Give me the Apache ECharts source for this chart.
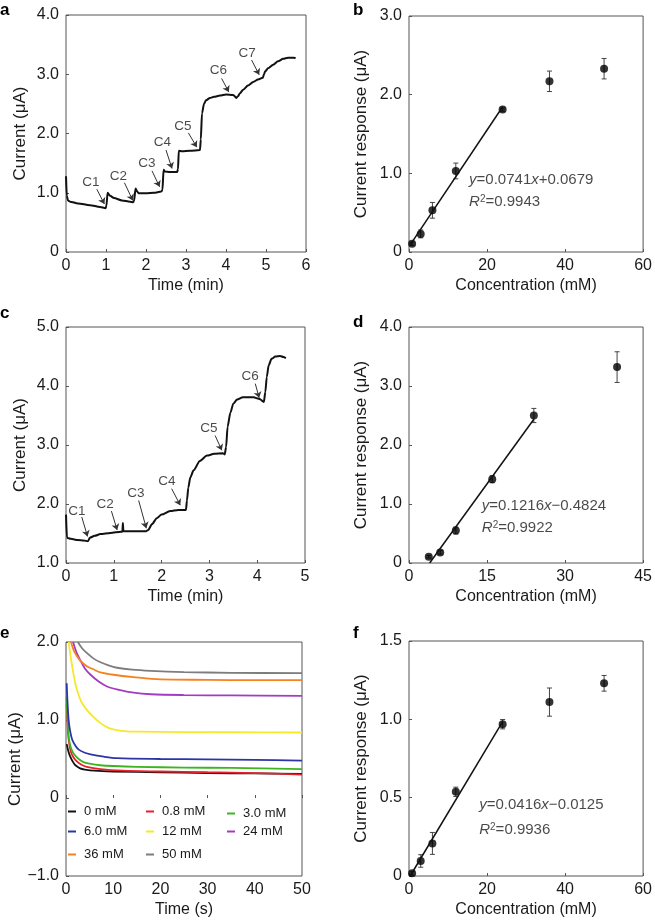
<!DOCTYPE html>
<html><head><meta charset="utf-8">
<script src="https://cdn.jsdelivr.net/npm/echarts@6/dist/echarts.min.js"></script>
<style>html,body{margin:0;padding:0;background:#fff}#c{width:655px;height:922px}</style>
</head><body><div id="c"></div>
<script>
// ---------- Panel a: amperometric trace ----------
const aTime = [0,0.02,0.05,0.1,0.3,0.6,0.85,0.99,1.01,1.04,1.1,1.2,1.4,1.6,1.68,1.7,1.74,1.78,1.82,2.0,2.2,2.38,2.41,2.44,2.47,2.6,2.78,2.8,2.82,2.9,3.1,3.35,3.37,3.4,3.45,3.5,3.6,3.7,3.85,4.0,4.18,4.26,4.3,4.35,4.43,4.55,4.68,4.8,4.92,4.95,4.98,5.05,5.18,5.3,5.43,5.55,5.7,5.74];
const aCurrent = [1.28,0.95,0.87,0.85,0.82,0.79,0.76,0.74,0.78,1.0,0.95,0.91,0.87,0.85,0.84,0.86,1.07,1.02,0.99,0.99,1.0,1.02,1.04,1.39,1.36,1.35,1.35,1.4,1.71,1.7,1.71,1.72,1.9,2.34,2.5,2.56,2.6,2.62,2.64,2.66,2.65,2.6,2.63,2.68,2.74,2.81,2.87,2.91,2.94,3.0,3.05,3.1,3.16,3.22,3.26,3.28,3.28,3.27];
const aLabels = ['C1','C2','C3','C4','C5','C6','C7'];
const aLabelPos = [[0.62,1.18],[1.31,1.28],[2.02,1.49],[2.41,1.86],[2.92,2.13],[3.81,3.07],[4.53,3.36]];
const aArrowStart = [[0.77,1.06],[1.46,1.17],[2.15,1.37],[2.50,1.72],[3.06,2.01],[3.89,2.93],[4.64,3.24]];
const aArrowEnd = [[0.96,0.81],[1.67,0.87],[2.34,1.10],[2.65,1.41],[3.27,1.77],[4.07,2.70],[4.83,2.99]];

// ---------- Panel b ----------
const bConc = [0.8,3,6,12,24,36,50];
const bResp = [0.105,0.23,0.53,1.03,1.81,2.17,2.33];
const bErr = [0.02,0.05,0.1,0.1,0.02,0.13,0.13];
const bFitX = [0.3,24];
const bFitY = [0.09,1.846];
const bEqPos = [[15.4,0.92],[15.4,0.64]];

// ---------- Panel c ----------
const cTime = [0,0.02,0.1,0.25,0.37,0.46,0.5,0.6,0.72,0.93,1.15,1.18,1.19,1.2,1.4,1.68,1.72,1.8,1.9,2.0,2.18,2.35,2.51,2.53,2.56,2.6,2.67,2.8,2.95,3.1,3.28,3.32,3.35,3.38,3.44,3.5,3.58,3.7,3.92,4.05,4.14,4.17,4.2,4.24,4.3,4.38,4.48,4.55,4.6];
const cCurrent = [1.82,1.43,1.41,1.39,1.38,1.37,1.43,1.46,1.49,1.51,1.53,1.53,1.68,1.54,1.54,1.54,1.56,1.66,1.76,1.82,1.88,1.9,1.9,2.06,2.28,2.45,2.57,2.73,2.82,2.85,2.86,2.84,2.97,3.31,3.55,3.7,3.77,3.81,3.81,3.78,3.73,3.9,4.15,4.35,4.46,4.5,4.51,4.49,4.47];
const cLabels = ['C1','C2','C3','C4','C5','C6'];
const cLabelPos = [[0.23,1.88],[0.82,1.99],[1.46,2.18],[2.11,2.38],[2.99,3.29],[3.85,4.16]];
const cArrowStart = [[0.33,1.78],[0.95,1.88],[1.52,2.06],[2.21,2.26],[3.12,3.16],[3.96,4.04]];
const cArrowEnd = [[0.45,1.45],[1.07,1.56],[1.68,1.59],[2.39,1.98],[3.26,2.91],[4.04,3.80]];

// ---------- Panel d ----------
const dConc = [3.8,6,9,16,24,40];
const dResp = [0.107,0.18,0.55,1.42,2.50,3.32];
const dErr = [0.02,0.03,0.06,0.06,0.12,0.26];
const dFitX = [3.97,24];
const dFitY = [0,2.436];
const dEqPos = [[14.0,0.97],[14.0,0.60]];

// ---------- Panel e: transients ----------
const eNames = ['0 mM','0.8 mM','3.0 mM','6.0 mM','12 mM','24 mM','36 mM','50 mM'];
const eColors = ['#111111','#e8202a','#3cb521','#2b35a8','#f5e92a','#a43bc2','#f5821f','#7d7d7d'];
const e0 = [[0.15,0.69],[0.5,0.6],[0.9,0.53],[1.5,0.46],[2.0,0.42],[3,0.38],[4,0.365],[6,0.35],[10,0.34],[20,0.33],[30,0.32],[40,0.315],[50,0.31]];
const e08 = [[0.15,1.2],[0.3,0.98],[0.56,0.75],[1.0,0.6],[1.5,0.53],[2.3,0.47],[3.2,0.43],[4.4,0.40],[7.3,0.37],[12,0.35],[20,0.34],[30,0.33],[40,0.32],[50,0.30]];
const e3 = [[0.15,1.3],[0.3,1.05],[0.56,0.79],[1.0,0.65],[1.6,0.57],[2.5,0.51],[3.7,0.46],[5,0.44],[7.3,0.42],[10,0.41],[15,0.40],[25,0.39],[35,0.385],[50,0.37]];
const e6 = [[0.15,1.47],[0.3,1.25],[0.56,1.0],[0.9,0.85],[1.3,0.75],[2.0,0.67],[2.7,0.62],[4,0.58],[5.2,0.56],[8,0.53],[10.8,0.51],[20,0.5],[30,0.495],[40,0.49],[50,0.48]];
const e12 = [[0.56,2.0],[0.9,1.85],[1.3,1.69],[1.8,1.52],[2.3,1.39],[3.2,1.24],[4.4,1.13],[5.8,1.04],[7.3,0.96],[9,0.9],[10.8,0.87],[13,0.855],[15.7,0.85],[25,0.845],[35,0.843],[50,0.84]];
const e24 = [[1.5,2.0],[2.2,1.87],[3.0,1.77],[4.0,1.66],[5.2,1.58],[7,1.49],[8.7,1.43],[11,1.39],[14.3,1.35],[18,1.33],[25,1.32],[35,1.315],[50,1.31]];
const e36 = [[1.06,2.0],[1.6,1.9],[2.3,1.82],[3.2,1.75],[4.4,1.69],[5.8,1.65],[7.3,1.61],[10,1.58],[14.3,1.55],[20,1.52],[30,1.515],[40,1.51],[50,1.51]];
const e50 = [[2.5,2.0],[3.4,1.92],[4.4,1.86],[5.8,1.79],[7.3,1.74],[9,1.7],[10.8,1.67],[14,1.645],[17.9,1.63],[25,1.615],[35,1.605],[50,1.60]];
const eCurves = [e0,e08,e3,e6,e12,e24,e36,e50];
const eLegendPos = [[68,805],[146,805],[227,807],[68,825],[146,825],[227,825],[68,848],[146,848]];

// ---------- Panel f ----------
const fConc = [0.8,3,6,12,24,36,50];
const fResp = [0.017,0.096,0.208,0.537,0.969,1.11,1.23];
const fErr = [0.01,0.04,0.07,0.03,0.03,0.09,0.05];
const fFitX = [0.3,24];
const fFitY = [0,0.986];
const fEqPos = [[18.0,0.452],[18.0,0.293]];

const eqTexts = {
  b: ['{i|y}=0.0741{i|x}+0.0679', '{i|R}{s|2}=0.9943'],
  d: ['{i|y}=0.1216{i|x}\u22120.4824', '{i|R}{s|2}=0.9922'],
  f: ['{i|y}=0.0416{i|x}\u22120.0125', '{i|R}{s|2}=0.9936']
};

const F = "'Liberation Sans', Arial, sans-serif";
const TXT = '#1a1a1a';
const grids = [
  {left:66, top:15, width:240, height:237},
  {left:409, top:16, width:237, height:236},
  {left:66, top:327, width:239, height:236},
  {left:409, top:327, width:237, height:236},
  {left:66, top:642, width:236, height:234},
  {left:409, top:641, width:237, height:235}
].map(g => Object.assign(g, {show:true, borderColor:'#555', borderWidth:1, backgroundColor:'transparent'}));

function fmtY(v){ if (Math.abs(v) < 1e-9) return '0'; const s = Math.abs(v).toFixed(1); return (v<0?'\u2212':'') + s; }
function xAx(i, min, max, interval, name){
  return {gridIndex:i, type:'value', min, max, interval, name, nameLocation:'middle', nameGap:26,
    nameTextStyle:{fontSize:16, color:TXT, fontFamily:F},
    axisLine:{show:false}, splitLine:{show:false},
    axisTick:{show:true, inside:true, length:3, lineStyle:{color:'#555'}},
    axisLabel:{fontSize:16, color:TXT, fontFamily:F, margin:6}};
}
function yAx(i, min, max, interval, name, gap){
  return {gridIndex:i, type:'value', min, max, interval, name, nameLocation:'middle', nameGap:gap,
    nameTextStyle:{fontSize:17, color:TXT, fontFamily:F},
    axisLine:{show:false}, splitLine:{show:false},
    axisTick:{show:true, inside:true, length:3, lineStyle:{color:'#555'}},
    axisLabel:{fontSize:16, color:TXT, fontFamily:F, margin:7, formatter:fmtY}};
}
const xAxes = [
  xAx(0,0,6,1,'Time (min)'), xAx(1,0,60,20,'Concentration (mM)'),
  xAx(2,0,5,1,'Time (min)'), xAx(3,0,45,15,'Concentration (mM)'),
  xAx(4,0,50,10,'Time (s)'), xAx(5,0,60,20,'Concentration (mM)')
];
const yAxes = [
  yAx(0,0,4,1,'Current (\u03bcA)',37), yAx(1,0,3,1,'Current response (\u03bcA)',39),
  yAx(2,1,5,1,'Current (\u03bcA)',37), yAx(3,0,4,1,'Current response (\u03bcA)',39),
  yAx(4,-1,2,1,'Current (\u03bcA)',37), yAx(5,0,1.5,0.5,'Current response (\u03bcA)',39)
];

function zip(xs, ys){ return xs.map((x,i)=>[x, ys[i]]); }
function traceSeries(idx, xs, ys, starts, ends){
  return {type:'line', xAxisIndex:idx, yAxisIndex:idx, data:zip(xs,ys), showSymbol:false, smooth:0.25, smoothMonotone:'x',
    lineStyle:{color:'#111', width:2}, itemStyle:{color:'#111'}, silent:true, animation:false,
    markLine:{silent:true, symbol:['none','arrow'], symbolSize:6, label:{show:false},
      lineStyle:{color:'#333', width:1, type:'solid'}, itemStyle:{color:'#333'}, emphasis:{disabled:true},
      data: starts.map((s,k)=>[{coord:s},{coord:ends[k]}])}};
}
function labelSeries(idx, names, pos){
  return {type:'scatter', xAxisIndex:idx, yAxisIndex:idx, symbolSize:0, silent:true, animation:false,
    data: names.map((n,k)=>({name:n, value:pos[k]})),
    label:{show:true, position:'inside', formatter:'{b}', fontSize:13.5, color:TXT, fontFamily:F}};
}
function fitSeries(idx, xs, ys){
  return {type:'line', xAxisIndex:idx, yAxisIndex:idx, data:zip(xs,ys), showSymbol:false, silent:true, animation:false,
    lineStyle:{color:'#111', width:1.5}};
}
function errSeries(idx, xs, ys, es){
  return {type:'custom', xAxisIndex:idx, yAxisIndex:idx, silent:true, animation:false,
    data: xs.map((x,k)=>[x, ys[k], es[k]]),
    renderItem: function(params, api){
      const x = api.value(0), y = api.value(1), e = api.value(2);
      const t = api.coord([x, y+e]), b = api.coord([x, y-e]);
      const st = {stroke:'#444', lineWidth:1};
      return {type:'group', children:[
        {type:'line', shape:{x1:t[0], y1:t[1], x2:b[0], y2:b[1]}, style:st},
        {type:'line', shape:{x1:t[0]-2.5, y1:t[1], x2:t[0]+2.5, y2:t[1]}, style:st},
        {type:'line', shape:{x1:b[0]-2.5, y1:b[1], x2:b[0]+2.5, y2:b[1]}, style:st}
      ]};
    }};
}
function ptSeries(idx, xs, ys){
  return {type:'scatter', xAxisIndex:idx, yAxisIndex:idx, data:zip(xs,ys), symbol:'circle', symbolSize:8,
    itemStyle:{color:'#000'}, silent:true, animation:false};
}
function eqSeries(idx, texts, pos){
  return {type:'scatter', xAxisIndex:idx, yAxisIndex:idx, symbolSize:0, silent:true, animation:false,
    data: texts.map((t,k)=>({value:pos[k], label:{formatter:t}})),
    label:{show:true, position:'right', distance:0, fontSize:15, color:TXT, fontFamily:F,
      rich:{i:{fontStyle:'italic', fontSize:15, color:TXT, fontFamily:F},
            s:{fontSize:10, color:TXT, fontFamily:F, verticalAlign:'top'}}}};
}

const series = [
  traceSeries(0, aTime, aCurrent, aArrowStart, aArrowEnd),
  labelSeries(0, aLabels, aLabelPos),
  fitSeries(1, bFitX, bFitY), errSeries(1, bConc, bResp, bErr), ptSeries(1, bConc, bResp), eqSeries(1, eqTexts.b, bEqPos),
  traceSeries(2, cTime, cCurrent, cArrowStart, cArrowEnd),
  labelSeries(2, cLabels, cLabelPos),
  fitSeries(3, dFitX, dFitY), errSeries(3, dConc, dResp, dErr), ptSeries(3, dConc, dResp), eqSeries(3, eqTexts.d, dEqPos),
  fitSeries(5, fFitX, fFitY), errSeries(5, fConc, fResp, fErr), ptSeries(5, fConc, fResp), eqSeries(5, eqTexts.f, fEqPos)
];
eCurves.forEach((cv,k)=>{
  series.push({type:'line', name:eNames[k], xAxisIndex:4, yAxisIndex:4, data:cv, showSymbol:false, smooth:0.3,
    lineStyle:{color:eColors[k], width:1.8}, itemStyle:{color:eColors[k]}, silent:true, animation:false});
});

const legends = eNames.map((n,k)=>({data:[n], left:eLegendPos[k][0], top:eLegendPos[k][1], padding:0,
  icon:'rect', itemWidth:8, itemHeight:2, selectedMode:false,
  textStyle:{fontSize:13, color:TXT, fontFamily:F, padding:[0,0,0,3]}}));

const letters = [['a',0,10],['b',353,10],['c',0,313],['d',353,322],['e',0,633],['f',353,633]];
const graphic = letters.map(l=>({type:'text', x:l[1], y:l[2], silent:true,
  style:{text:l[0], font:"bold 17px 'Liberation Sans', Arial, sans-serif", fill:'#000', verticalAlign:'middle'}}));

const chart = echarts.init(document.getElementById('c'), null, {renderer:'canvas'});
chart.setOption({animation:false, backgroundColor:'#fff', grid:grids, xAxis:xAxes, yAxis:yAxes,
  series, legend:legends, graphic});
</script></body></html>
